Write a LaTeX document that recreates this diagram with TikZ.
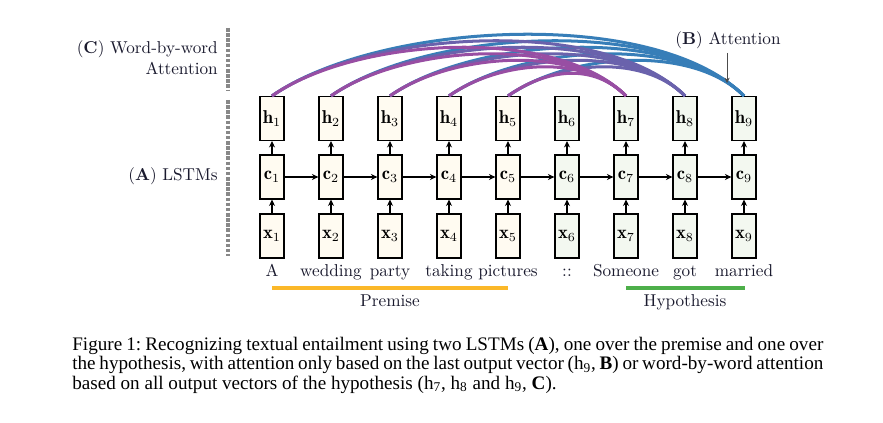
\documentclass[tikz,border=0pt]{standalone}
\usepackage{fontspec}
\newfontfamily\capfont{Liberation Serif}
\usetikzlibrary{arrows.meta,calc}
\definecolor{attblue}{HTML}{377EB8}
\definecolor{attmid}{HTML}{6A62AC}
\definecolor{attpurple}{HTML}{984EA3}
\definecolor{premfill}{HTML}{FFFBF1}
\definecolor{hypfill}{HTML}{F3F8F0}
\definecolor{premline}{HTML}{FBB829}
\definecolor{hypline}{HTML}{4DAF4A}
\definecolor{dashgray}{HTML}{888888}
\definecolor{inkc}{HTML}{1A1A2E}
\frenchspacing
\tikzset{
  cell/.style={draw, line width=0.7pt, minimum width=13.6pt, minimum height=24.8pt, inner sep=0pt, font=\fontsize{10.5}{12}\selectfont},
  flow/.style={-{Stealth[length=3.6pt,width=3.4pt]}, line width=0.6pt},
  att/.style={line width=1.7pt},
  word/.style={anchor=base, inner sep=0pt, text=inkc, font=\fontsize{9.7}{12}\selectfont},
  sidelabel/.style={anchor=base east, inner sep=0pt, text=inkc, font=\fontsize{9.7}{12}\selectfont},
  sepline/.style={dashgray, line width=1.7pt, dash pattern=on 2pt off 0.9pt},
  capline/.style={anchor=base west, inner sep=0pt, font=\capfont\fontsize{10.8}{12}\selectfont}
}
\begin{document}
\begin{tikzpicture}[x=0.5647pt, y=-0.5647pt]
\useasboundingbox[fill=white] (0,0) rectangle (883,422);
% cells
\foreach \i in {1,...,9} {
  \pgfmathsetmacro\xx{272+59*(\i-1)}
  \ifnum\i<6 \def\fc{premfill}\else\def\fc{hypfill}\fi
  \node[cell, fill=\fc] (x\i) at (\xx,236) {$\mathbf{x}_{\i}$};
  \node[cell, fill=\fc] (c\i) at (\xx,177) {$\mathbf{c}_{\i}$};
  \node[cell, fill=\fc] (h\i) at (\xx,118.5) {$\mathbf{h}_{\i}$};
  \draw[flow] (x\i) -- (c\i);
  \draw[flow] (c\i) -- (h\i);
}
\foreach \i in {1,...,8} {
  \pgfmathtruncatemacro\j{\i+1}
  \draw[flow] (c\i) -- (c\j);
}
% attention arcs
\foreach \j/\col in {9/attblue,8/attmid,7/attpurple} {
  \foreach \i in {1,...,5} {
    \pgfmathsetmacro\dd{59*(\j-\i)}
    \pgfmathsetmacro\cc{20+0.229*\dd}
    \pgfmathsetmacro\ax{\cc*cos(35)}
    \pgfmathsetmacro\ay{\cc*sin(35)}
    \pgfmathsetmacro\bx{\cc*cos(45)}
    \pgfmathsetmacro\by{\cc*sin(45)}
    \draw[att, \col] (h\i.north) .. controls ($(h\i.north)+(\ax,-\ay)$) and ($(h\j.north)+(-\bx,-\by)$) .. (h\j.north);
  }
}
% words
\node[word] (w1) at (272,276) {A};
\node[word] (w2) at (331,276) {wedding};
\node[word] (w3) at (390,276) {party};
\node[word] (w4) at (449,276) {taking};
\node[word] (w5) at (508,276) {pictures};
\node[word] (w6) at (567,276) {::};
\node[word] (w7) at (626,276) {Someone};
\node[word] (w8) at (685,276) {got};
\node[word] (w9) at (744,276) {married};
% premise / hypothesis
\draw[premline, line width=1.7pt] (272,288) -- (508,288);
\draw[hypline, line width=1.7pt] (626,288) -- (745,288);
\node[word] (prem) at (390,306) {Premise};
\node[word] (hyp) at (685,306) {Hypothesis};
% side labels
\draw[sepline] (228,28) -- (228,90);
\draw[sepline] (228,100) -- (228,256);
\node[sidelabel] (lc1) at (218,54) {(\textbf{C}) Word-by-word};
\node[sidelabel] (lc2) at (218,75) {Attention};
\node[sidelabel] (la) at (218,180) {(\textbf{A}) LSTMs};
\node[word, anchor=base west] (lb) at (675,45) {(\textbf{B}) Attention};
\coordinate (bs) at (727,53);
\coordinate (be) at (727,83);
\draw[-{Stealth[length=3pt,width=3pt]}, line width=0.4pt, black!70] (bs) -- (be);
% caption
\node[capline] (cap1) at (72,350) {\makebox[424.1pt][s]{Figure 1: Recognizing textual entailment using two LSTMs (\textbf{A}), one over the premise and one over}};
\node[capline] (cap2) at (72,369.5) {\makebox[424.1pt][s]{the hypothesis, with attention only based on the last output vector (h\textsubscript{9}, \textbf{B}) or word-by-word attention}};
\node[capline] (cap3) at (72,389) {based on all output vectors of the hypothesis (h\textsubscript{7}, h\textsubscript{8} and h\textsubscript{9}, \textbf{C}).};
\end{tikzpicture}
\end{document}
